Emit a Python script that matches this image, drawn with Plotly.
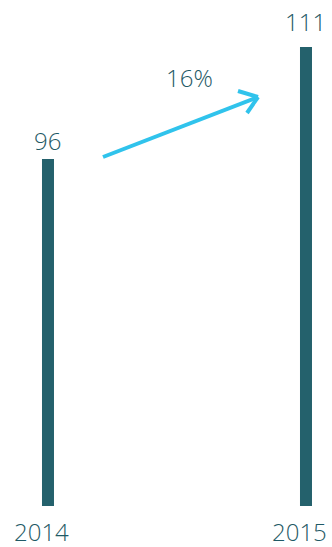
import plotly.graph_objects as go

years = ["2014", "2015"]
values = [96, 111]
growth_label = "16%"

BAR = "#24616c"
TXT = "#1f5a66"
ARROW = "#30c3ec"

W, H = 332, 547
FONT = dict(family="Open Sans", size=24, color=TXT, weight=300)
fig = go.Figure()
fig.add_trace(go.Bar(x=[0, 1], y=values, width=0.0465, marker_color=BAR,
                     marker_line_width=0, hoverinfo="skip"))

# value labels
label_shift = [19, 26]
for i, v in enumerate(values):
    fig.add_annotation(x=i, y=v, xref="x", yref="y", text=str(v), showarrow=False,
                       yanchor="middle", yshift=label_shift[i], font=FONT)
# category labels
for i, c in enumerate(years):
    fig.add_annotation(x=i, y=0, xref="x", yref="paper", text=c, showarrow=False,
                       yanchor="middle", yshift=-25, xshift=-6, height=26, font=FONT)

# growth arrow (pixel coords converted to paper)
def px(x, y):
    return x / W, 1 - y / 506

tail = (103, 157); tip = (258, 97)
arm1 = (238, 91); arm2 = (247, 113)
for a, b in [(tail, tip), (arm1, tip), (arm2, tip)]:
    x0, y0 = px(*a); x1, y1 = px(*b)
    fig.add_shape(type="line", xref="paper", yref="paper", x0=x0, y0=y0, x1=x1, y1=y1,
                  line=dict(color=ARROW, width=4))
fig.add_annotation(x=189 / W, y=1 - 77 / 506, xref="paper", yref="paper",
                   text=growth_label, showarrow=False, yanchor="middle", font=FONT)

fig.update_layout(
    width=W, height=H, margin=dict(l=0, r=0, t=0, b=41),
    paper_bgcolor="white", plot_bgcolor="white", showlegend=False,
    xaxis=dict(range=[-0.186, 1.1008], visible=False),
    yaxis=dict(range=[49.53, 117.3], visible=False),
)
fig.write_html("out.html")
